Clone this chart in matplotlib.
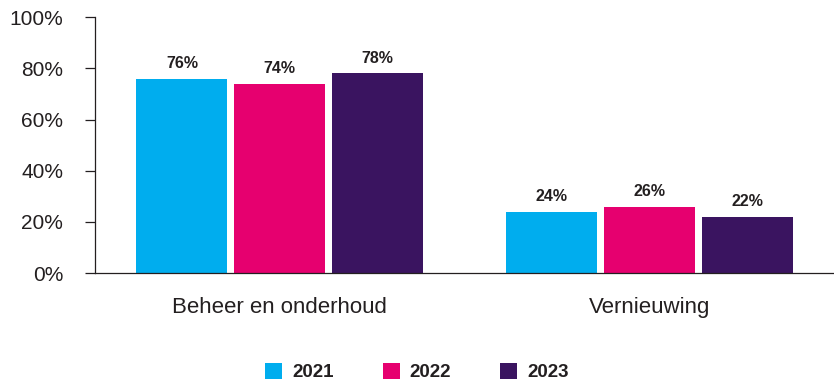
import numpy as np
import matplotlib.pyplot as plt
from matplotlib.patches import Patch

plt.rcParams['font.family'] = ['Liberation Sans', 'DejaVu Sans']

categories = ['Beheer en onderhoud', 'Vernieuwing']
years = ['2021', '2022', '2023']
values = {
    '2021': [76, 24],
    '2022': [74, 26],
    '2023': [78, 22],
}
colors = ['#00adee', '#e6006f', '#3a1460']
text_color = '#231f20'

fig = plt.figure(figsize=(8.34, 3.82), dpi=100)
ax = fig.add_axes([0.114, 0.285, 0.886, 0.67])

x = np.arange(len(categories))
width = 0.246
step = 0.265
for i, (year, color) in enumerate(zip(years, colors)):
    pos = x + (i - 1) * step
    bars = ax.bar(pos, values[year], width=width, color=color)
    for b, v in zip(bars, values[year]):
        ax.text(b.get_x() + b.get_width() / 2, v + 3, f'{v}%',
                ha='center', va='bottom', fontsize=11.5, fontweight='bold',
                color=text_color)

ax.set_xlim(-0.5, 1.5)
ax.set_ylim(0, 100)
ax.set_yticks(range(0, 101, 20))
ax.set_yticklabels([f'{t}%' for t in range(0, 101, 20)])
ax.set_xticks(x)
ax.set_xticklabels(categories)

for s in ['top', 'right']:
    ax.spines[s].set_visible(False)
ax.spines['left'].set_color(text_color)
ax.spines['bottom'].set_color(text_color)
ax.spines['left'].set_linewidth(0.9)
ax.spines['bottom'].set_linewidth(0.9)
ax.tick_params(axis='y', length=7, width=0.9, color=text_color,
               labelsize=15, labelcolor=text_color, pad=16)
ax.tick_params(axis='x', length=0, labelsize=16, labelcolor=text_color, pad=17)

handles = [Patch(facecolor=c, label=y) for y, c in zip(years, colors)]
leg = fig.legend(handles=handles, loc='center', bbox_to_anchor=(0.5, 0.026),
                 ncol=3, frameon=False, handlelength=0.9, handleheight=0.9,
                 handletextpad=0.55, columnspacing=2.6,
                 prop={'size': 13.5, 'weight': 'bold'})
for t in leg.get_texts():
    t.set_color(text_color)

fig.savefig('out.png', dpi=100)
